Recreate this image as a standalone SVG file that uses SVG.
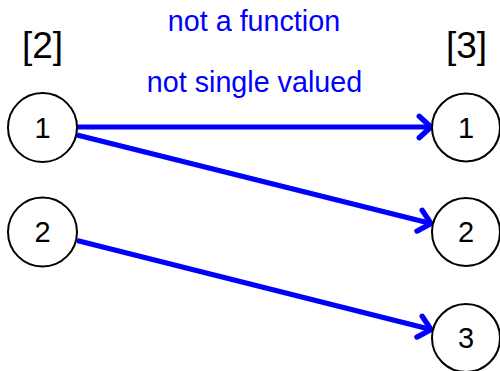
<svg xmlns="http://www.w3.org/2000/svg" width="500" height="371" viewBox="0 0 500 371">
<defs>
<style>
.node circle{fill:#fff;stroke:#000;stroke-width:2}
.node text{font-family:"Liberation Sans",Arial,sans-serif;font-size:29px;text-anchor:middle;fill:#000}
.set{font-family:"Liberation Sans",Arial,sans-serif;font-size:37px;text-anchor:middle;fill:#000}
.note{font-family:"Liberation Sans",Arial,sans-serif;font-size:28.7px;text-anchor:middle;fill:#0000ff}
.edge{stroke:#0000ff;stroke-width:5;fill:none;marker-end:url(#arr)}
</style>
<marker id="arr" markerUnits="userSpaceOnUse" markerWidth="30" markerHeight="30" refX="0" refY="0" viewBox="-16 -14 20 28" orient="auto" overflow="visible">
<path d="M -11 -10 L 0 0 L -11 10" fill="none" stroke="#0000ff" stroke-width="5" stroke-linecap="round" stroke-linejoin="miter"/>
</marker>
</defs>
<rect width="500" height="371" fill="#fff"/>
<text class="note" x="254" y="31">not a function</text>
<text class="note" x="254.5" y="92">not single valued</text>
<text class="set" x="42.5" y="58">[2]</text>
<text class="set" x="466.5" y="58">[3]</text>
<g id="connectors">
<line class="edge" x1="77" y1="127" x2="431" y2="127"/>
<line class="edge" x1="77" y1="135" x2="431" y2="223.5"/>
<line class="edge" x1="77" y1="240.5" x2="431" y2="329.5"/>
</g>
<g id="a1" class="node"><circle cx="42.5" cy="127.5" r="34.5"/><text x="42.5" y="137.5">1</text></g>
<g id="a2" class="node"><circle cx="42.5" cy="232" r="34.5"/><text x="42.5" y="242">2</text></g>
<g id="b1" class="node"><circle cx="466" cy="127.5" r="34"/><text x="466" y="137.5">1</text></g>
<g id="b2" class="node"><circle cx="466" cy="232" r="34"/><text x="466" y="242">2</text></g>
<g id="b3" class="node"><circle cx="466" cy="338" r="34"/><text x="466" y="348">3</text></g>
</svg>
